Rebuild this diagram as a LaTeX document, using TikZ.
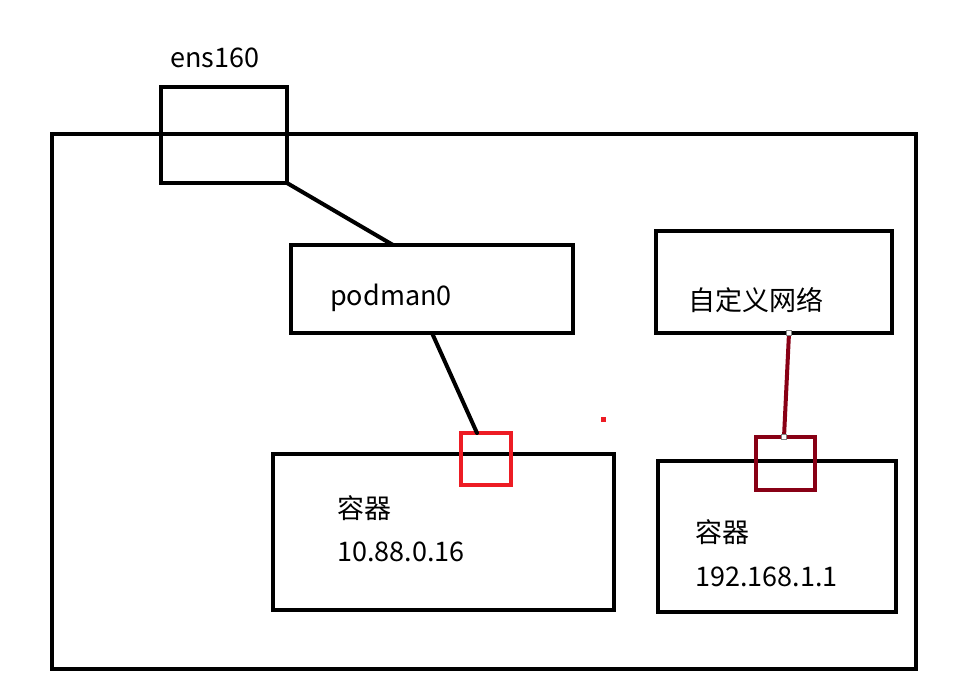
\documentclass[tikz,border=0pt]{standalone}
\usepackage{fontspec}
\setmainfont{Noto Sans CJK SC}
\begin{document}
\begin{tikzpicture}[x=1pt,y=-1pt,
  box/.style={draw=black,line width=4.5pt,inner sep=0pt,outer sep=0pt,rectangle},
  darksq/.style={draw=darkred,line width=4pt,inner sep=0pt,outer sep=0pt,rectangle},
  lbl/.style={anchor=west,inner sep=0pt,font=\fontsize{27}{30}\selectfont},
  handle/.style={draw=gray,fill=white,line width=0.8pt,minimum size=5pt,inner sep=0pt,rectangle},
  link/.style={line width=4pt,line cap=round}]
\definecolor{darkred}{HTML}{880015}
\definecolor{redc}{HTML}{ED1C24}
\useasboundingbox (0,0) rectangle (963,696);
\node[box,minimum width=864pt,minimum height=535pt] (outer) at (484,401.5) {};
\node[box,minimum width=126pt,minimum height=96pt] (ens) at (224,135) {};
\node[box,minimum width=282pt,minimum height=88pt] (podman) at (432,289) {};
\node[box,minimum width=341pt,minimum height=156pt] (c1) at (443.5,532) {};
\node[box,minimum width=236pt,minimum height=102pt] (net) at (774,282) {};
\node[box,minimum width=238pt,minimum height=151pt] (c2) at (777,536.5) {};
\node[draw=redc,line width=4pt,inner sep=0pt,outer sep=0pt,minimum width=50pt,minimum height=52pt] (rsq) at (486,459) {};
\node[darksq,minimum width=59pt,minimum height=53pt] (dsq) at (785.5,463.5) {};
\node[fill=redc,inner sep=0pt,minimum size=5pt] (dot) at (603,419) {};
\node[lbl] (tens) at (170,58) {ens160};
\node[lbl] (tpod) at (330,298) {podman0};
\node[lbl] (tc1a) at (337,508) {容器};
\node[lbl] (tc1b) at (337,552) {10.88.0.16};
\node[lbl] (tnet) at (688,300) {自定义网络};
\node[lbl] (tc2a) at (695,532) {容器};
\node[lbl] (tc2b) at (695,577) {192.168.1.1};
\draw[link] (ens.south east) -- ([xshift=102pt]podman.north west);
\draw[link] ([xshift=141pt]podman.south west) -- ([xshift=-9pt]rsq.north);
\coordinate (na) at ([xshift=133pt]net.south west);
\coordinate (nb) at ([xshift=-1.5pt]dsq.north);
\draw[line width=4pt,draw=darkred] (na) -- (nb);
\node[handle] (h1) at (na) {};
\node[handle] (h2) at (nb) {};
\end{tikzpicture}
\end{document}
